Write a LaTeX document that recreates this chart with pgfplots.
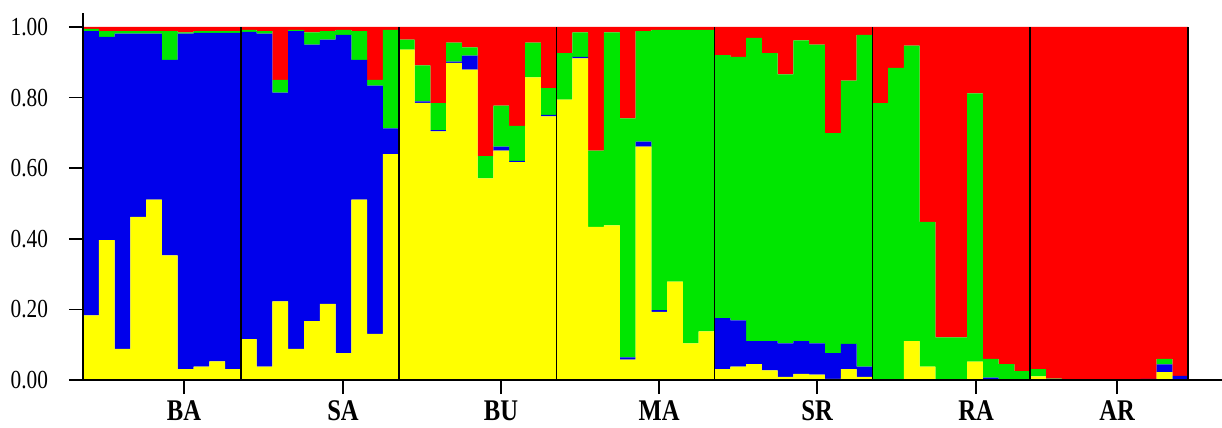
\documentclass[border=0pt]{standalone}
\usepackage{fontspec}
\setmainfont{Liberation Serif}[FakeStretch=0.82]
\usepackage{pgfplots}
\usepackage{pgfplotstable}
\pgfplotsset{compat=1.18}
\definecolor{cY}{RGB}{255,255,0}
\definecolor{cB}{RGB}{0,0,235}
\definecolor{cG}{RGB}{0,230,0}
\definecolor{cR}{RGB}{255,0,0}
\pgfplotstableread{
x Y B G R
0.5 .183 .805 .007 .005
1.5 .396 .576 .016 .012
2.5 .088 .893 .007 .012
3.5 .462 .519 .007 .012
4.5 .511 .470 .007 .012
5.5 .353 .554 .081 .012
6.5 .031 .950 .004 .015
7.5 .038 .945 .005 .012
8.5 .053 .930 .005 .012
9.5 .031 .952 .005 .012
10.5 .116 .870 .006 .008
11.5 .038 .943 .007 .012
12.5 .223 .591 .036 .150
13.5 .088 .900 .004 .008
14.5 .167 .783 .035 .015
15.5 .216 .748 .024 .012
16.5 .076 .902 .014 .008
17.5 .511 .396 .081 .012
18.5 .131 .703 .016 .150
19.5 .640 .073 .279 .008
20.5 .936 0 .028 .036
21.5 .785 .004 .102 .109
22.5 .704 .004 .076 .216
23.5 .898 .004 .054 .044
24.5 .879 .040 .023 .058
25.5 .571 0 .063 .366
26.5 .650 .011 .116 .223
27.5 .617 .004 .099 .280
28.5 .857 0 .099 .044
29.5 .747 .004 .076 .173
30.5 .794 0 .132 .074
31.5 .911 .004 .070 .015
32.5 .434 0 .216 .350
33.5 .438 0 .547 .015
34.5 .058 .006 .677 .259
35.5 .661 .014 .313 .012
36.5 .193 .005 .794 .008
37.5 .279 0 .713 .008
38.5 .104 0 .888 .008
39.5 .138 0 .854 .008
40.5 .031 .144 .745 .080
41.5 .038 .131 .746 .085
42.5 .045 .065 .859 .031
43.5 .027 .083 .816 .074
44.5 .009 .095 .762 .134
45.5 .017 .093 .852 .038
46.5 .015 .089 .846 .050
47.5 .003 .073 .623 .301
48.5 .031 .071 .746 .152
49.5 .009 .029 .940 .022
50.5 0 0 .784 .216
51.5 0 0 .884 .116
52.5 .110 0 .837 .053
53.5 .038 0 .410 .552
54.5 0 0 .121 .879
55.5 0 0 .121 .879
56.5 .052 0 .760 .188
57.5 0 .007 .053 .940
58.5 0 0 .045 .955
59.5 0 0 .025 .975
60.5 .010 0 .021 .969
61.5 0 0 .004 .996
62.5 0 0 0 1
63.5 0 0 0 1
64.5 0 0 0 1
65.5 0 0 0 1
66.5 0 0 0 1
67.5 0 .003 0 .997
68.5 .022 .022 .016 .940
69.5 0 .012 0 .988
}\datatable
\begin{document}
\begin{tikzpicture}
\begin{axis}[
  scale only axis, width=569.5pt, height=176.5pt,
  xmin=0, xmax=72.15, ymin=0, ymax=1,
  axis lines*=left,
  axis line style={black, line width=0.8pt},
  y axis line style={shorten >=-7pt},
  axis on top,
  ybar stacked, bar width=1, bar shift=0,
  clip=false,
  tick align=outside, major tick length=7pt,
  tick style={black, line width=0.8pt},
  ytick={0,0.2,0.4,0.6,0.8,1},
  yticklabel style={/pgf/number format/.cd, fixed, fixed zerofill, precision=2, assume math mode=true, /tikz/.cd, font=\fontsize{13}{14}\selectfont, xshift=-7pt},
  xtick={6.4,16.47,26.48,36.49,46.5,56.57,65.5},
  xticklabels={BA,SA,BU,MA,SR,RA,AR},
  xticklabel style={font=\bfseries\fontsize{15}{16}\selectfont, inner sep=0pt, yshift=-3pt},
  extra x ticks={10,20,30,40,50,60,70},
  extra x tick labels={},
  extra x tick style={grid=major, major grid style={black, line width=0.8pt}, major tick length=0pt},
]
\addplot[fill=cY, draw=none] table[x=x, y=Y] {\datatable};
\addplot[fill=cB, draw=none] table[x=x, y=B] {\datatable};
\addplot[fill=cG, draw=none] table[x=x, y=G] {\datatable};
\addplot[fill=cR, draw=none] table[x=x, y=R] {\datatable};
\end{axis}
\pgfresetboundingbox
\path ([xshift=-41.5pt,yshift=-23.5pt]current axis.south west) rectangle ([yshift=13.5pt]current axis.north east);
\end{tikzpicture}
\end{document}
